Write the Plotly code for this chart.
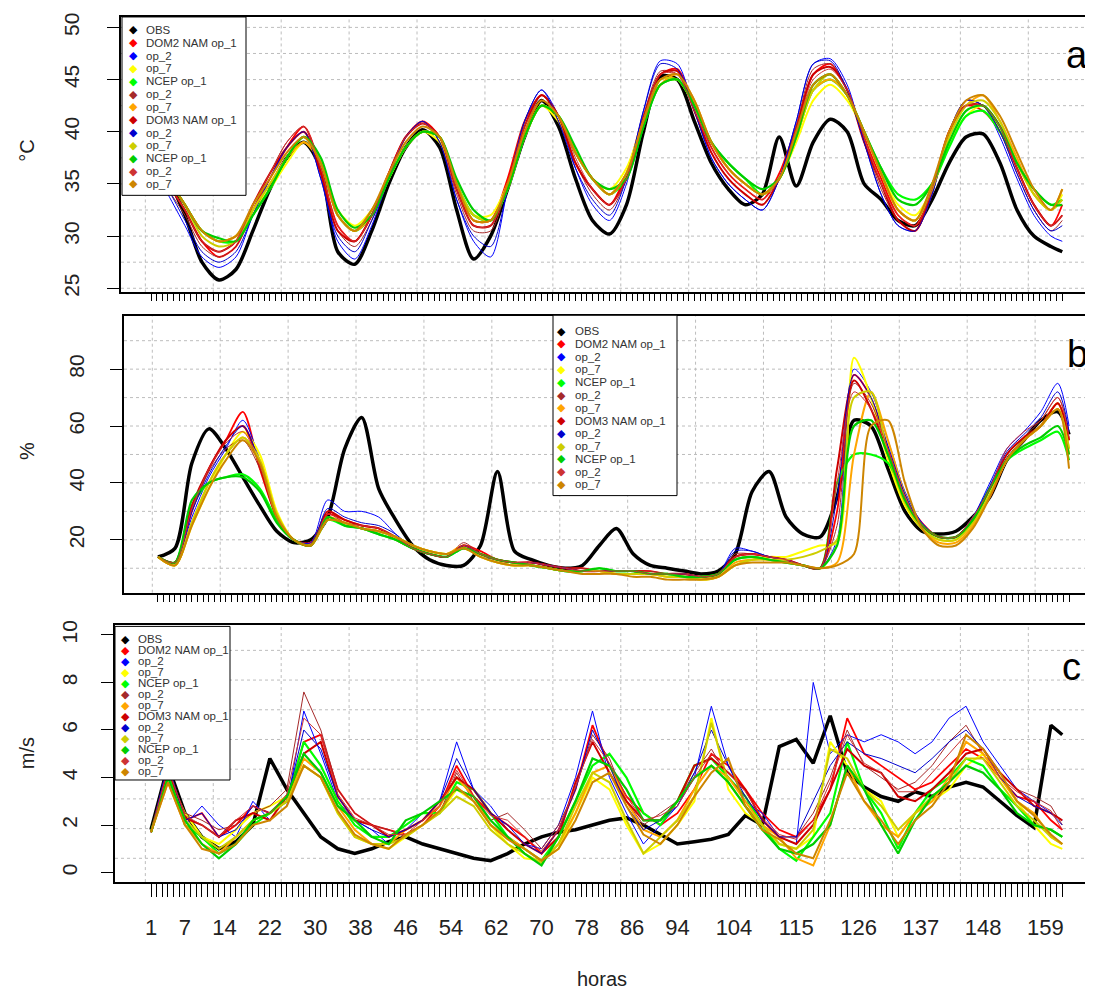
import plotly.graph_objects as go

W, H = 1093, 995
OFF = 8  # page body margin of the html page

hours = [1, 4, 7, 10, 13, 16, 19, 22, 25, 28, 31,
         34, 37, 40, 43, 46, 49, 52, 55, 58, 61, 64,
         67, 70, 73, 76, 79, 82, 85, 88, 91, 94, 97,
         100, 103, 106, 109, 112, 115, 118, 121, 124, 127, 130,
         133, 136, 139, 142, 145, 148, 151, 154, 157, 160, 162]

series_names = ["OBS", "DOM2 NAM op_1", "op_2", "op_7", "NCEP op_1", "op_2", "op_7",
                "DOM3 NAM op_1", "op_2", "op_7", "NCEP op_1", "op_2", "op_7"]
series_colors = ["#000000", "#FF0000", "#0000FF", "#FFFF00", "#00FF00", "#A52A2A", "#FFA500",
                 "#CD0000", "#0000CD", "#CDCD00", "#00CD00", "#CD3333", "#CD8500"]
series_widths = [3.5, 1.8, 1, 2, 2.2, 1, 2, 2, 1, 2, 2.2, 1, 2]

xtick_labels = [1, 7, 14, 22, 30, 38, 46, 54, 62, 70, 78, 86, 94, 104, 115, 126, 137, 148, 159]

# ---------------- Temperature (°C) ----------------
temp_obs = [38, 35.5, 32, 27.5, 25.8, 26.8, 30.5, 34.5, 37.5, 39, 36.5,
            28.5, 27.3, 30.5, 35, 38.5, 40.2, 38.5, 32.5, 27.8, 30, 34.5,
            39.5, 43, 40.5, 35.5, 31.5, 30.2, 33, 40, 45.3, 45, 41,
            37, 34.5, 33, 34, 39.5, 34.8, 39, 41.2, 40, 35, 33.5,
            31.5, 31, 33.5, 37, 39.5, 39.8, 37, 32.5, 30, 29, 28.5]
temp_dom2_nam_op1 = [37.5, 35, 32.5, 29.5, 28, 29, 32.5, 35.5, 38.5, 40.5, 36.5,
                     31, 29.5, 32, 36, 39.5, 41, 39.5, 34.5, 31.5, 31.5, 35.5,
                     41, 43.5, 41.5, 37, 34.5, 33, 36, 41.5, 45.5, 46, 42.5,
                     38.5, 36, 34.5, 33.5, 36, 40.5, 45.5, 46.5, 44, 39.5, 35.5,
                     32, 31, 34.5, 40, 42.5, 42, 40, 36.5, 33, 31, 33]
temp_dom2_nam_op2 = [37, 34, 31, 28, 27, 28, 32, 35.5, 38.5, 40, 35.5,
                     29.5, 27.8, 31, 35.5, 39.5, 41, 39, 33.5, 29.5, 28, 34.5,
                     41, 44, 41.5, 36.5, 33, 31.5, 35, 42, 46.8, 46.5, 42,
                     37.5, 35, 33.5, 32.5, 35.5, 41, 46.5, 47, 44.5, 39, 34,
                     31, 30.5, 34, 40, 43, 42.5, 39.5, 35.5, 32, 30, 29.5]
temp_dom2_nam_op7 = [37.5, 35.5, 33, 30.5, 29.5, 30, 32.5, 34.5, 37, 39, 37,
                     32.5, 31, 32.5, 35.5, 38.5, 40, 39, 35, 32, 32, 35,
                     39.5, 42.5, 41, 38, 35.5, 34.5, 36.5, 41, 44.5, 45, 42.5,
                     39, 36.5, 35, 34, 35.5, 39, 43, 44.5, 43, 40, 36,
                     33, 32, 34.5, 39, 41.5, 42.5, 40, 37, 34, 32.5, 34]
temp_dom2_ncep_op1 = [38, 35.5, 33, 30.5, 29.5, 29.5, 32, 34.5, 37.5, 39.5, 37,
                      32, 30.5, 32, 35.5, 38.5, 40, 39.5, 35, 32, 31.5, 34.5,
                      39.5, 42.5, 41.5, 38, 35.5, 34, 35.5, 40.5, 44.5, 45, 42.5,
                      39, 37, 35.5, 34, 35.5, 39.5, 44, 45, 43.5, 40, 36.5,
                      34, 33.5, 35, 38.5, 41.5, 42, 40, 37, 34.5, 33, 33.5]
temp_dom2_ncep_op2 = [37.5, 34.5, 32, 29, 28, 29, 32.5, 36, 39, 40.5, 36,
                      30.5, 29, 31.5, 35.5, 39.5, 41, 39, 34, 30.5, 30.5, 35,
                      41, 43.5, 41, 37, 34, 32.5, 35.5, 41.5, 45.8, 45.5, 42,
                      38, 35.5, 34, 33, 35.5, 40.5, 46, 46.5, 44, 39, 34.5,
                      31.5, 30.5, 34, 40, 43, 42.5, 40, 36, 32.5, 30.5, 31.5]
temp_dom2_ncep_op7 = [38, 35.5, 33, 30.5, 29.5, 30, 32.5, 35, 37.5, 39, 37,
                      32, 30.5, 32, 35.5, 38.5, 40, 39.5, 35, 31.5, 31.5, 34.5,
                      39.5, 42.5, 41.5, 38, 35.5, 34, 36, 41, 44.5, 45.5, 43,
                      39, 36.5, 35, 34, 35.5, 39.5, 44, 45, 43.5, 40, 36,
                      32.5, 31.5, 34.5, 39.5, 42.5, 43.5, 41, 37.5, 34, 32.5, 34.5]
temp_dom3_nam_op1 = [37.5, 35, 32.5, 29.5, 28.5, 29.5, 33, 36, 38.5, 40, 36,
                     30.5, 29.5, 32, 36, 39.5, 40.8, 39.5, 34.5, 31, 31, 35,
                     40.5, 43.5, 41.5, 37, 34.5, 33, 35.5, 41, 45.5, 45.8, 42,
                     38, 35.5, 34, 33, 35.5, 40, 45.5, 46.2, 44, 39, 35,
                     31.5, 30.5, 34.5, 40, 42.5, 42.5, 40.5, 36.5, 33, 31, 32]
temp_dom3_nam_op2 = [37, 34.5, 31.5, 28.5, 27.5, 28.5, 32, 35.5, 38.5, 40, 35.5,
                     30, 28.5, 31.5, 35.5, 39.5, 41, 39, 33.5, 30, 29, 34.5,
                     41, 44, 41, 36.5, 33.5, 32, 35.5, 42, 46.5, 46, 42,
                     37.5, 35, 33.5, 32.5, 35.5, 41, 46.5, 46.8, 44, 39, 34,
                     31, 30.5, 34, 40, 43, 42.5, 40, 36, 32.5, 30.5, 31]
temp_dom3_nam_op7 = [38, 35.5, 33, 30, 29, 29.5, 32.5, 35, 37.5, 39.5, 37,
                     32, 30.5, 32.5, 35.5, 38.5, 40, 39.5, 35, 32, 31.5, 34.5,
                     39.5, 42.5, 41.5, 38, 35.5, 34, 36, 41, 45, 45, 42.5,
                     39, 36.5, 35, 34, 35.5, 39.5, 44, 45.5, 43.5, 40, 36,
                     32.5, 31.5, 34.5, 39.5, 42.5, 43, 41, 37, 34, 32.5, 33.5]
temp_dom3_ncep_op1 = [38, 35.5, 33, 30.5, 29.8, 29.5, 32, 34.5, 37.5, 39.5, 37.5,
                      32.5, 30.8, 32, 35.5, 38.5, 40, 39.5, 35.5, 32.5, 31.5, 34.5,
                      39.5, 42.5, 41.5, 38.5, 35.5, 34.5, 35.5, 40.5, 44.5, 45, 42.5,
                      39, 37, 35.5, 34.5, 35.5, 39.5, 44.5, 45.5, 43.5, 40, 36.5,
                      33.5, 33, 35, 39, 42, 42.5, 40.5, 37, 34.5, 33, 33]
temp_dom3_ncep_op2 = [37.5, 35, 32.5, 29.5, 28.5, 29.5, 33, 36, 39, 40.5, 36.5,
                      31, 29.5, 32, 36, 39.5, 40.8, 39.5, 34.5, 31, 31, 35,
                      40.5, 43, 41.5, 37.5, 34.5, 33, 35.5, 41, 45.5, 45.5, 42,
                      38.5, 36, 34.5, 33.5, 35.5, 40, 45, 46, 44, 39.5, 35,
                      32, 31, 34.5, 40, 42.5, 42.5, 40.5, 36.5, 33, 31, 32]
temp_dom3_ncep_op7 = [38, 35.5, 33, 30.5, 29.5, 30, 33, 35.5, 38, 39.5, 37,
                      32, 30.5, 32.5, 36, 39, 40.5, 39.5, 35, 31.5, 31.5, 35,
                      40, 43, 41.5, 38, 35.5, 34, 36, 41, 45, 45.5, 43,
                      39, 36.5, 35, 34, 35.5, 40, 44.5, 45.5, 43.5, 40, 36,
                      32.5, 31.5, 35, 40, 43, 43.5, 41.5, 38, 34.5, 32.5, 34.5]

# ---------------- Relative humidity (%) ----------------
rh_obs = [14, 17, 47, 59, 52, 42, 32, 23, 19, 20, 28,
          52, 63, 38, 27, 18, 13, 11, 11, 18, 44, 16,
          13, 11, 10, 11, 18, 24, 15, 11, 10, 9, 8,
          9, 15, 37, 44, 28, 22, 21, 35, 62, 60, 45,
          30, 23, 22, 23, 28, 35, 48, 55, 62, 65, 57]
rh_dom2_nam_op1 = [14, 12, 30, 45, 55, 65, 45, 28, 20, 19, 29,
                   27, 25, 24, 20, 17, 15, 14, 18, 16, 13, 12,
                   12, 11, 10, 10, 9, 9, 9, 9, 8, 8, 7,
                   8, 14, 15, 14, 13, 11, 10, 30, 78, 70, 52,
                   35, 26, 21, 21, 27, 35, 48, 55, 60, 68, 55]
rh_dom2_nam_op2 = [14, 12, 28, 42, 52, 62, 48, 28, 20, 19, 34,
                   30, 30, 28, 22, 17, 15, 14, 17, 14, 13, 12,
                   12, 11, 10, 9, 9, 9, 9, 8, 8, 8, 7,
                   8, 17, 16, 14, 13, 11, 10, 20, 80, 72, 55,
                   37, 26, 21, 21, 28, 40, 52, 58, 65, 75, 60]
rh_dom2_nam_op7 = [14, 11, 25, 38, 50, 58, 50, 30, 20, 18, 27,
                   26, 24, 23, 21, 18, 16, 15, 17, 14, 12, 11,
                   11, 10, 9, 9, 9, 8, 8, 8, 7, 7, 6,
                   7, 11, 13, 14, 14, 16, 18, 19, 84, 70, 48,
                   32, 24, 20, 20, 26, 36, 48, 55, 60, 66, 52]
rh_dom2_ncep_op1 = [14, 12, 32, 40, 42, 43, 38, 27, 20, 18, 27,
                    25, 24, 22, 20, 17, 15, 14, 17, 15, 13, 12,
                    11, 10, 9, 9, 10, 9, 9, 8, 8, 7, 7,
                    8, 13, 14, 13, 12, 11, 10, 40, 50, 50, 47,
                    35, 25, 21, 21, 27, 38, 48, 52, 55, 58, 48]
rh_dom2_ncep_op2 = [14, 12, 30, 44, 52, 55, 45, 28, 20, 18, 30,
                    26, 25, 24, 21, 17, 15, 14, 19, 15, 13, 12,
                    12, 11, 10, 10, 9, 9, 9, 9, 8, 8, 7,
                    8, 15, 15, 14, 13, 11, 10, 25, 75, 68, 52,
                    35, 25, 21, 21, 28, 38, 50, 56, 62, 70, 58]
rh_dom2_ncep_op7 = [14, 11, 26, 40, 50, 56, 48, 29, 20, 18, 28,
                    26, 24, 23, 21, 18, 16, 15, 18, 15, 13, 12,
                    11, 10, 9, 9, 9, 8, 8, 8, 7, 7, 6,
                    7, 12, 13, 13, 12, 11, 10, 12, 50, 72, 55,
                    36, 24, 19, 19, 25, 36, 48, 55, 60, 68, 50]
rh_dom3_nam_op1 = [14, 12, 32, 45, 55, 60, 46, 28, 20, 18, 30,
                   27, 25, 24, 21, 17, 15, 14, 18, 15, 13, 12,
                   12, 11, 10, 9, 9, 9, 9, 8, 8, 8, 7,
                   8, 14, 15, 14, 13, 11, 10, 45, 76, 66, 50,
                   34, 25, 21, 21, 27, 38, 50, 56, 60, 68, 55]
rh_dom3_nam_op2 = [14, 12, 30, 43, 53, 60, 47, 28, 20, 18, 31,
                   28, 26, 25, 22, 17, 15, 14, 18, 15, 13, 12,
                   12, 11, 10, 9, 9, 9, 9, 8, 8, 8, 7,
                   8, 16, 16, 14, 13, 11, 10, 35, 78, 70, 53,
                   36, 25, 21, 21, 28, 39, 51, 57, 63, 72, 58]
rh_dom3_nam_op7 = [14, 11, 26, 40, 50, 56, 48, 29, 20, 18, 27,
                   26, 24, 23, 21, 18, 16, 15, 17, 14, 12, 11,
                   11, 10, 9, 9, 9, 8, 8, 8, 7, 7, 6,
                   7, 11, 13, 13, 13, 14, 16, 20, 70, 72, 50,
                   33, 24, 20, 20, 26, 36, 48, 55, 60, 66, 52]
rh_dom3_ncep_op1 = [14, 12, 34, 40, 42, 42, 37, 26, 20, 18, 28,
                    25, 24, 22, 20, 17, 15, 14, 17, 15, 13, 12,
                    11, 10, 9, 9, 10, 9, 9, 8, 8, 7, 7,
                    8, 13, 14, 13, 12, 11, 10, 18, 60, 62, 50,
                    34, 25, 21, 21, 27, 38, 48, 53, 56, 60, 50]
rh_dom3_ncep_op2 = [14, 12, 31, 45, 54, 58, 46, 28, 20, 18, 29,
                    26, 25, 24, 21, 17, 15, 14, 18, 15, 13, 12,
                    12, 11, 10, 9, 9, 9, 9, 8, 8, 8, 7,
                    8, 14, 15, 14, 13, 11, 10, 40, 72, 66, 52,
                    35, 25, 21, 21, 28, 38, 52, 58, 62, 70, 56]
rh_dom3_ncep_op7 = [14, 11, 25, 38, 48, 55, 47, 28, 20, 18, 27,
                    26, 24, 23, 21, 18, 16, 15, 17, 14, 12, 11,
                    11, 10, 9, 8, 8, 8, 7, 7, 6, 6, 6,
                    7, 11, 12, 12, 12, 11, 10, 11, 15, 60, 62,
                    40, 24, 18, 18, 24, 35, 48, 55, 60, 66, 45]

# ---------------- Wind speed (m/s) ----------------
wind_obs = [1.8, 4.5, 2.5, 1.5, 1.0, 1.3, 2.0, 4.8, 3.5, 2.5, 1.5,
            1.0, 0.8, 1.0, 1.3, 1.5, 1.2, 1.0, 0.8, 0.6, 0.5, 0.8,
            1.2, 1.5, 1.7, 1.8, 2.0, 2.2, 2.3, 2.0, 1.6, 1.2, 1.3,
            1.4, 1.6, 2.4, 2.0, 5.3, 5.6, 4.6, 6.6, 4.2, 3.6, 3.2,
            3.0, 3.4, 3.2, 3.6, 3.8, 3.6, 3.0, 2.4, 1.9, 6.2, 5.8]
wind_dom2_nam_op1 = [1.7, 4.2, 2.2, 2.5, 1.5, 2.0, 2.8, 2.5, 3.0, 5.5, 5.8,
                     3.5, 2.5, 2.0, 1.8, 1.6, 2.0, 2.8, 4.5, 3.2, 2.5, 2.0,
                     1.5, 0.8, 1.8, 3.5, 6.2, 4.5, 3.2, 2.5, 2.0, 2.5, 3.5,
                     5.0, 4.5, 3.5, 2.5, 1.8, 1.5, 2.2, 3.5, 6.5, 5.0, 4.5,
                     4.0, 3.5, 3.8, 4.5, 5.2, 4.8, 4.0, 3.2, 3.0, 2.2, 1.8]
wind_dom2_nam_op2 = [1.7, 4.5, 2.0, 2.8, 2.0, 1.5, 3.0, 2.2, 2.8, 6.8, 5.0,
                     3.0, 2.2, 1.8, 1.2, 1.8, 2.5, 3.0, 5.5, 3.5, 2.8, 1.8,
                     1.2, 1.0, 2.0, 4.0, 6.8, 4.0, 2.5, 1.2, 2.0, 2.8, 4.0,
                     7.0, 4.5, 3.0, 2.5, 1.5, 1.2, 8.0, 5.0, 5.8, 5.5, 5.8,
                     5.5, 5.0, 5.5, 6.5, 7.0, 5.5, 4.5, 3.5, 3.0, 2.5, 2.2]
wind_dom2_nam_op7 = [1.7, 4.0, 2.5, 1.5, 1.2, 1.8, 2.5, 2.8, 3.2, 4.5, 4.0,
                     2.5, 1.5, 1.2, 1.0, 1.5, 2.0, 2.5, 3.5, 3.0, 2.0, 1.2,
                     0.6, 0.5, 1.0, 2.5, 4.0, 3.5, 2.0, 0.8, 1.2, 2.0, 3.0,
                     6.5, 3.5, 2.5, 2.0, 1.2, 1.0, 1.5, 5.5, 4.5, 3.5, 3.0,
                     1.5, 2.5, 3.0, 3.5, 4.5, 5.0, 4.0, 3.0, 2.0, 1.2, 1.0]
wind_dom2_ncep_op1 = [1.7, 4.2, 2.0, 1.5, 0.8, 1.2, 2.0, 2.5, 3.0, 5.5, 4.5,
                      3.0, 2.0, 1.5, 1.5, 2.0, 2.5, 2.5, 3.8, 3.5, 2.5, 1.5,
                      1.0, 0.5, 1.5, 3.0, 4.5, 5.0, 4.0, 2.5, 2.0, 3.0, 4.5,
                      4.8, 4.0, 3.2, 2.0, 1.0, 0.5, 1.5, 2.5, 5.5, 3.5, 2.5,
                      1.0, 2.5, 3.5, 4.0, 4.8, 4.5, 3.5, 2.8, 2.0, 1.8, 1.5]
wind_dom2_ncep_op2 = [1.7, 4.3, 2.5, 2.2, 1.8, 2.0, 2.5, 2.8, 3.5, 7.6, 6.0,
                      3.5, 2.5, 2.0, 1.8, 1.5, 2.0, 2.5, 4.2, 3.0, 2.2, 2.5,
                      1.8, 1.0, 2.0, 3.5, 5.8, 4.8, 3.0, 2.0, 2.5, 3.0, 4.2,
                      5.2, 4.0, 3.2, 2.2, 1.5, 1.5, 2.5, 4.0, 6.0, 4.5, 4.0,
                      3.5, 3.8, 4.5, 5.5, 6.2, 5.0, 4.2, 3.5, 3.2, 2.8, 2.0]
wind_dom2_ncep_op7 = [1.7, 3.8, 2.0, 1.2, 0.8, 1.5, 2.2, 2.5, 3.0, 4.8, 4.2,
                      2.8, 1.8, 1.2, 1.2, 1.8, 2.2, 2.8, 4.0, 3.2, 2.0, 1.5,
                      1.0, 0.5, 1.2, 2.5, 4.2, 4.5, 3.0, 1.8, 1.5, 2.2, 3.5,
                      4.5, 4.0, 3.0, 2.0, 1.5, 0.6, 0.3, 2.0, 4.5, 3.0, 2.0,
                      1.5, 2.5, 3.0, 4.0, 5.5, 5.0, 4.0, 3.0, 2.5, 1.5, 1.2]
wind_dom3_nam_op1 = [1.7, 4.4, 2.3, 2.0, 1.5, 2.2, 2.5, 2.2, 3.2, 5.0, 5.5,
                     3.2, 2.2, 2.0, 1.5, 1.8, 2.2, 3.0, 4.0, 3.5, 2.5, 1.8,
                     1.2, 0.8, 1.5, 3.8, 5.5, 4.2, 3.0, 2.2, 2.2, 3.0, 4.5,
                     4.8, 4.2, 3.5, 2.2, 1.5, 1.2, 2.0, 3.5, 5.2, 4.5, 4.2,
                     3.2, 3.0, 3.5, 4.2, 5.0, 5.2, 4.2, 3.5, 2.8, 2.5, 2.2]
wind_dom3_nam_op2 = [1.7, 4.6, 2.2, 2.5, 1.5, 1.8, 2.8, 2.5, 3.0, 6.0, 5.2,
                     3.2, 2.2, 1.8, 1.5, 1.8, 2.2, 3.0, 4.8, 3.5, 2.5, 2.0,
                     1.2, 0.8, 1.8, 3.5, 6.0, 4.5, 2.8, 1.8, 2.2, 2.8, 4.2,
                     6.0, 4.5, 3.2, 2.2, 1.5, 1.5, 3.0, 4.5, 5.5, 5.0, 4.8,
                     4.5, 4.2, 4.8, 5.5, 6.0, 5.2, 4.0, 3.2, 2.8, 2.5, 2.0]
wind_dom3_nam_op7 = [1.7, 4.0, 2.2, 1.5, 1.0, 1.5, 2.2, 2.5, 3.0, 4.5, 4.0,
                     2.5, 1.5, 1.2, 1.2, 1.5, 2.0, 2.5, 3.2, 2.8, 1.8, 1.2,
                     0.8, 0.4, 1.2, 2.8, 4.2, 3.8, 2.2, 0.8, 1.5, 2.2, 3.2,
                     6.3, 3.8, 2.8, 2.0, 1.2, 1.0, 1.8, 5.2, 4.8, 3.5, 2.8,
                     1.8, 2.5, 3.2, 3.8, 4.8, 4.8, 3.8, 2.8, 2.2, 1.5, 1.2]
wind_dom3_ncep_op1 = [1.7, 4.0, 2.2, 1.2, 0.6, 1.2, 2.2, 2.5, 3.2, 5.0, 4.2,
                      2.8, 2.2, 1.5, 1.2, 2.2, 2.5, 3.0, 3.5, 3.2, 2.2, 1.5,
                      0.8, 0.3, 1.5, 3.0, 4.8, 4.5, 3.5, 2.2, 2.2, 3.0, 4.0,
                      4.5, 3.8, 2.8, 1.8, 1.0, 0.8, 1.2, 2.0, 4.5, 3.5, 2.0,
                      0.8, 2.2, 3.2, 3.8, 4.5, 4.2, 3.5, 2.5, 2.0, 1.8, 1.5]
wind_dom3_ncep_op2 = [1.7, 4.4, 2.4, 2.0, 1.5, 2.2, 2.8, 2.5, 3.3, 6.5, 5.8,
                      3.3, 2.3, 2.0, 1.6, 1.6, 2.2, 2.8, 4.3, 3.2, 2.4, 2.2,
                      1.5, 0.9, 1.8, 3.6, 5.6, 4.6, 3.2, 2.2, 2.4, 2.8, 4.0,
                      5.0, 4.2, 3.4, 2.3, 1.6, 1.4, 2.2, 3.8, 5.8, 4.6, 4.2,
                      3.4, 3.4, 4.2, 5.0, 5.8, 5.2, 4.0, 3.4, 3.0, 2.6, 1.8]
wind_dom3_ncep_op7 = [1.7, 3.8, 2.0, 1.0, 0.8, 1.2, 2.0, 2.2, 2.8, 4.5, 4.0,
                      2.6, 1.6, 1.2, 1.0, 1.6, 2.0, 2.6, 3.6, 3.0, 2.0, 1.4,
                      1.0, 0.5, 1.0, 2.2, 3.8, 4.2, 2.8, 1.6, 1.2, 2.0, 3.2,
                      4.2, 4.8, 2.8, 1.8, 1.4, 0.8, 0.6, 2.2, 4.2, 3.0, 2.2,
                      1.2, 2.2, 2.8, 3.8, 5.8, 5.2, 4.2, 3.0, 2.4, 1.6, 1.2]

temp_series = [temp_obs, temp_dom2_nam_op1, temp_dom2_nam_op2, temp_dom2_nam_op7,
               temp_dom2_ncep_op1, temp_dom2_ncep_op2, temp_dom2_ncep_op7,
               temp_dom3_nam_op1, temp_dom3_nam_op2, temp_dom3_nam_op7,
               temp_dom3_ncep_op1, temp_dom3_ncep_op2, temp_dom3_ncep_op7]
rh_series = [rh_obs, rh_dom2_nam_op1, rh_dom2_nam_op2, rh_dom2_nam_op7,
             rh_dom2_ncep_op1, rh_dom2_ncep_op2, rh_dom2_ncep_op7,
             rh_dom3_nam_op1, rh_dom3_nam_op2, rh_dom3_nam_op7,
             rh_dom3_ncep_op1, rh_dom3_ncep_op2, rh_dom3_ncep_op7]
wind_series = [wind_obs, wind_dom2_nam_op1, wind_dom2_nam_op2, wind_dom2_nam_op7,
               wind_dom2_ncep_op1, wind_dom2_ncep_op2, wind_dom2_ncep_op7,
               wind_dom3_nam_op1, wind_dom3_nam_op2, wind_dom3_nam_op7,
               wind_dom3_ncep_op1, wind_dom3_ncep_op2, wind_dom3_ncep_op7]

grid_x = [0, 12, 24, 36, 48, 60, 72, 84, 96, 108, 120, 132, 144, 156]
grid_y_temp = [25, 27.5, 30, 32.5, 35, 37.5, 40, 42.5, 45, 47.5, 50]
grid_y_rh = [10, 20, 30, 40, 50, 60, 70, 80, 90]
grid_y_wind = [0.6, 1.85, 3.1, 4.35, 5.6, 6.85, 8.1, 9.35]


def px_x(px):
    return (px - OFF) / W


def px_y(py):
    return 1 - (py - OFF) / H


FONT = "Liberation Sans, Arial, sans-serif"

panels = [
    dict(ax="", data=temp_series, shape="spline", xdom=(121, 1090), ydom=(12, 290),
         xr=(-4.3, 166.9), yr=(24.6, 51.0), yt=[25, 30, 35, 40, 45, 50], gy=grid_y_temp,
         title="°C", title_y=147, letter="a", letter_xy=(1077, 50), xticklen=7, labels=False,
         standoff=20, leg=dict(box=(122, 12, 246, 192), xd=133, xt=144, y0=25, dy=12.95)),
    dict(ax="2", data=rh_series, shape="spline", xdom=(124, 1090), ydom=(314, 593),
         xr=(-5.0, 165.7), yr=(1.4, 98.6), yt=[20, 40, 60, 80], gy=grid_y_rh,
         title="%", title_y=450, letter="b", letter_xy=(1077, 352), xticklen=7, labels=False,
         standoff=18, leg=dict(box=(553, 313, 677, 495), xd=561, xt=573, y0=329, dy=12.9)),
    dict(ax="3", data=wind_series, shape="linear", xdom=(115, 1092), ydom=(626, 885),
         xr=(-5.36, 167.25), yr=(-0.4, 10.4), yt=[0, 2, 4, 6, 8, 10], gy=grid_y_wind,
         title="m/s", title_y=755, letter="c", letter_xy=(1071, 668), xticklen=13, labels=True,
         standoff=16, leg=dict(box=(115, 627, 230, 782), xd=125, xt=136, y0=640, dy=11.1)),
]

tick_hours = list(range(1, 163))
tick_text = [str(h) if h in xtick_labels else "" for h in tick_hours]

fig = go.Figure()
shapes = []
annotations = []
layout = {}

for p in panels:
    xa = "x" + p["ax"]
    ya = "y" + p["ax"]
    for i, series in enumerate(p["data"]):
        fig.add_trace(go.Scatter(
            x=hours, y=series, mode="lines",
            line=dict(color=series_colors[i], width=series_widths[i], shape=p["shape"], smoothing=0.8),
            xaxis=xa, yaxis=ya, showlegend=False, hoverinfo="skip", name=series_names[i]))

    layout["xaxis" + p["ax"]] = dict(
        domain=[px_x(p["xdom"][0]), px_x(p["xdom"][1])], range=list(p["xr"]), anchor=ya,
        showline=True, mirror=True, linecolor="black", linewidth=2, showgrid=False, zeroline=False,
        ticks="outside", ticklen=p["xticklen"], tickwidth=1.3, tickcolor="black",
        tickmode="array", tickvals=tick_hours, ticktext=tick_text, showticklabels=p["labels"],
        tickfont=dict(family=FONT, size=22, color="#222"), ticklabelstandoff=12)
    layout["yaxis" + p["ax"]] = dict(
        domain=[px_y(p["ydom"][1]), px_y(p["ydom"][0])], range=list(p["yr"]), anchor=xa,
        showline=True, mirror=True, linecolor="black", linewidth=2, showgrid=False, zeroline=False,
        ticks="outside", ticklen=12, tickwidth=1.3, tickcolor="black",
        tickmode="array", tickvals=p["yt"], tickangle=-90,
        tickfont=dict(family=FONT, size=21, color="#222"), ticklabelstandoff=p["standoff"])

    for gx in grid_x:
        shapes.append(dict(type="line", xref=xa, yref=ya + " domain", x0=gx, x1=gx, y0=0, y1=1,
                           line=dict(color="#bdbdbd", width=1, dash="dot"), layer="below"))
    for gy in p["gy"]:
        shapes.append(dict(type="line", xref=xa + " domain", yref=ya, x0=0, x1=1, y0=gy, y1=gy,
                           line=dict(color="#bdbdbd", width=1, dash="dot"), layer="below"))

    lg = p["leg"]
    bx0, by0, bx1, by1 = lg["box"]
    shapes.append(dict(type="rect", xref="paper", yref="paper",
                       x0=px_x(bx0), x1=px_x(bx1), y0=px_y(by1), y1=px_y(by0),
                       line=dict(color="black", width=1), fillcolor="white", layer="above"))
    for i, nm in enumerate(series_names):
        yy = lg["y0"] + i * lg["dy"]
        annotations.append(dict(x=px_x(lg["xd"]), y=px_y(yy), xref="paper", yref="paper",
                                text="◆", showarrow=False, xanchor="center", yanchor="middle",
                                font=dict(family="DejaVu Sans", size=11, color=series_colors[i])))
        annotations.append(dict(x=px_x(lg["xt"]), y=px_y(yy), xref="paper", yref="paper",
                                text=nm, showarrow=False, xanchor="left", yanchor="middle",
                                font=dict(family=FONT, size=11.5, color="#333")))

    annotations.append(dict(x=px_x(27), y=px_y(p["title_y"]), xref="paper", yref="paper",
                            text=p["title"], showarrow=False, textangle=-90,
                            xanchor="center", yanchor="middle",
                            font=dict(family=FONT, size=20, color="#222")))
    annotations.append(dict(x=px_x(p["letter_xy"][0]), y=px_y(p["letter_xy"][1]), xref="paper",
                            yref="paper", text=p["letter"], showarrow=False,
                            xanchor="center", yanchor="middle",
                            font=dict(family=FONT, size=38, color="black")))

annotations.append(dict(x=px_x(602), y=px_y(983), xref="paper", yref="paper", text="horas",
                        showarrow=False, xanchor="center", yanchor="middle",
                        font=dict(family=FONT, size=20, color="#222")))

fig.update_layout(
    width=W, height=H, autosize=False,
    margin=dict(l=0, r=0, t=0, b=0),
    paper_bgcolor="white", plot_bgcolor="white",
    shapes=shapes, annotations=annotations, showlegend=False,
    **layout)

fig.write_html("out.html")
